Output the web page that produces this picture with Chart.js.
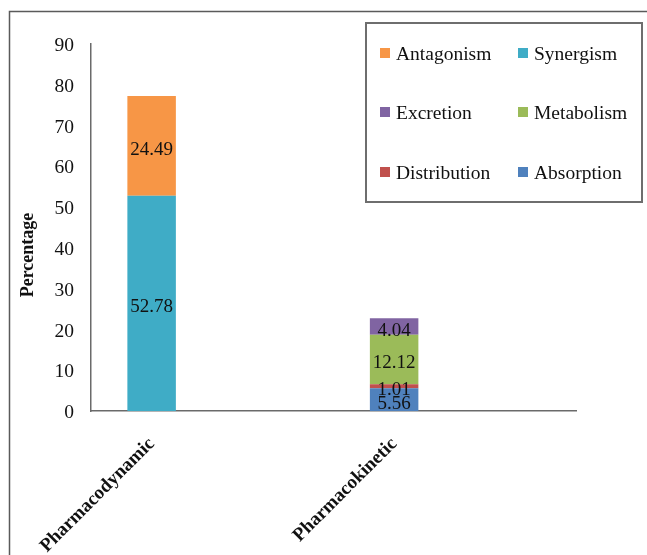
<!DOCTYPE html>
<html>
<head>
<meta charset="utf-8">
<script src="https://cdn.jsdelivr.net/npm/chart.js@4.4.1/dist/chart.umd.min.js"></script>
<style>
  html, body { margin: 0; padding: 0; background: #ffffff; }
  #wrap { position: relative; width: 647px; height: 555px; overflow: hidden; }
  canvas { display: block; }
</style>
</head>
<body>
<div id="wrap"><canvas id="chart" width="647" height="555"></canvas></div>
<script>
// Interaction categories (x axis)
const categories = ['Pharmacodynamic', 'Pharmacokinetic'];

// Percentage per interaction type, one value per category
const absorption   = [null, 5.56];
const distribution = [null, 1.01];
const metabolism   = [null, 12.12];
const excretion    = [null, 4.04];
const synergism    = [52.78, null];
const antagonism   = [24.49, null];

// Y axis ticks
const yMin = 0;
const yMax = 90;
const yStep = 10;
const yTitle = 'Percentage';

const SERIF = "'Liberation Serif', 'Times New Roman', serif";

// Each category is followed by an empty slot so the bars sit at 1/8 and 5/8 of the axis
const slotLabels = categories.flatMap(c => [c, '']);
const slots = values => values.flatMap(v => [v, null]);

const seriesList = [
  { label: 'Absorption',   values: absorption,   color: '#4F81BD' },
  { label: 'Distribution', values: distribution, color: '#C0504D' },
  { label: 'Metabolism',   values: metabolism,   color: '#9BBB59' },
  { label: 'Excretion',    values: excretion,    color: '#8064A2' },
  { label: 'Synergism',    values: synergism,    color: '#3FACC6' },
  { label: 'Antagonism',   values: antagonism,   color: '#F79646' }
];

// Outer frame around the figure
const framePlugin = {
  id: 'frame',
  beforeDraw(chart) {
    const ctx = chart.ctx;
    ctx.save();
    ctx.strokeStyle = '#5a5a5a';
    ctx.lineWidth = 1.5;
    ctx.strokeRect(9.5, 11.5, 800, 800);
    ctx.restore();
  }
};

// Vertical axis title, set a little below the middle of the axis
const axisTitlePlugin = {
  id: 'axisTitle',
  afterDraw(chart) {
    const ctx = chart.ctx;
    const area = chart.chartArea;
    ctx.save();
    ctx.translate(28, area.top + (area.bottom - area.top) * 0.575);
    ctx.rotate(-Math.PI / 2);
    ctx.font = 'bold 18px ' + SERIF;
    ctx.fillStyle = '#111111';
    ctx.textAlign = 'center';
    ctx.textBaseline = 'middle';
    ctx.fillText(yTitle, 0, 0);
    ctx.restore();
  }
};

// Value labels centred in each stacked segment
const valueLabelPlugin = {
  id: 'valueLabels',
  afterDatasetsDraw(chart) {
    const ctx = chart.ctx;
    ctx.save();
    ctx.font = '19px ' + SERIF;
    ctx.fillStyle = '#111111';
    ctx.textAlign = 'center';
    ctx.textBaseline = 'middle';
    chart.data.datasets.forEach((ds, i) => {
      const meta = chart.getDatasetMeta(i);
      meta.data.forEach((bar, j) => {
        const v = ds.data[j];
        if (v === null || v === undefined) return;
        const y = (bar.y + bar.base) / 2;
        ctx.fillText(v.toFixed(2), bar.x, y + 4);
      });
    });
    ctx.restore();
  }
};

// Boxed legend, two columns, series listed top-of-stack first
const boxLegendPlugin = {
  id: 'boxLegend',
  afterDraw(chart) {
    const ctx = chart.ctx;
    const box = { x: 366, y: 23, w: 276, h: 179 };
    ctx.save();
    ctx.strokeStyle = '#6e6e6e';
    ctx.lineWidth = 2;
    ctx.fillStyle = '#ffffff';
    ctx.fillRect(box.x, box.y, box.w, box.h);
    ctx.strokeRect(box.x, box.y, box.w, box.h);

    const items = chart.data.datasets.slice().reverse();
    const colX = [380, 518];
    const rowY = [53, 112, 172];
    ctx.font = '19.5px ' + SERIF;
    ctx.textAlign = 'left';
    ctx.textBaseline = 'middle';
    items.forEach((ds, k) => {
      const cx = colX[k % 2];
      const cy = rowY[Math.floor(k / 2)];
      ctx.fillStyle = ds.backgroundColor;
      ctx.fillRect(cx, cy - 5, 10, 10);
      ctx.fillStyle = '#111111';
      ctx.fillText(ds.label, cx + 16, cy + 2);
    });
    ctx.restore();
  }
};

new Chart(document.getElementById('chart'), {
  type: 'bar',
  data: {
    labels: slotLabels,
    datasets: seriesList.map(s => ({
      label: s.label,
      data: slots(s.values),
      backgroundColor: s.color,
      borderWidth: 0,
      categoryPercentage: 1,
      barPercentage: 0.4
    }))
  },
  options: {
    responsive: false,
    animation: false,
    devicePixelRatio: 1,
    layout: { padding: { top: 44, left: 14, right: 71, bottom: 0 } },
    plugins: {
      legend: { display: false },
      tooltip: { enabled: false }
    },
    scales: {
      x: {
        stacked: true,
        grid: { display: false, drawTicks: false },
        border: { display: true, color: '#6a6a6a', width: 1.5 },
        ticks: {
          autoSkip: false,
          minRotation: 45,
          maxRotation: 45,
          padding: 22,
          color: '#111111',
          font: { family: SERIF, size: 19, weight: 'bold' }
        },
        afterFit(scale) { scale.height = 144; }
      },
      y: {
        stacked: true,
        min: yMin,
        max: yMax,
        grid: { display: false, drawTicks: false },
        border: { display: true, color: '#6a6a6a', width: 1.5 },
        ticks: {
          stepSize: yStep,
          padding: 17,
          labelOffset: 2,
          color: '#111111',
          font: { family: SERIF, size: 19.5 }
        },
        afterFit(scale) { scale.width = 77; }
      }
    }
  },
  plugins: [framePlugin, valueLabelPlugin, axisTitlePlugin, boxLegendPlugin]
});
</script>
</body>
</html>
